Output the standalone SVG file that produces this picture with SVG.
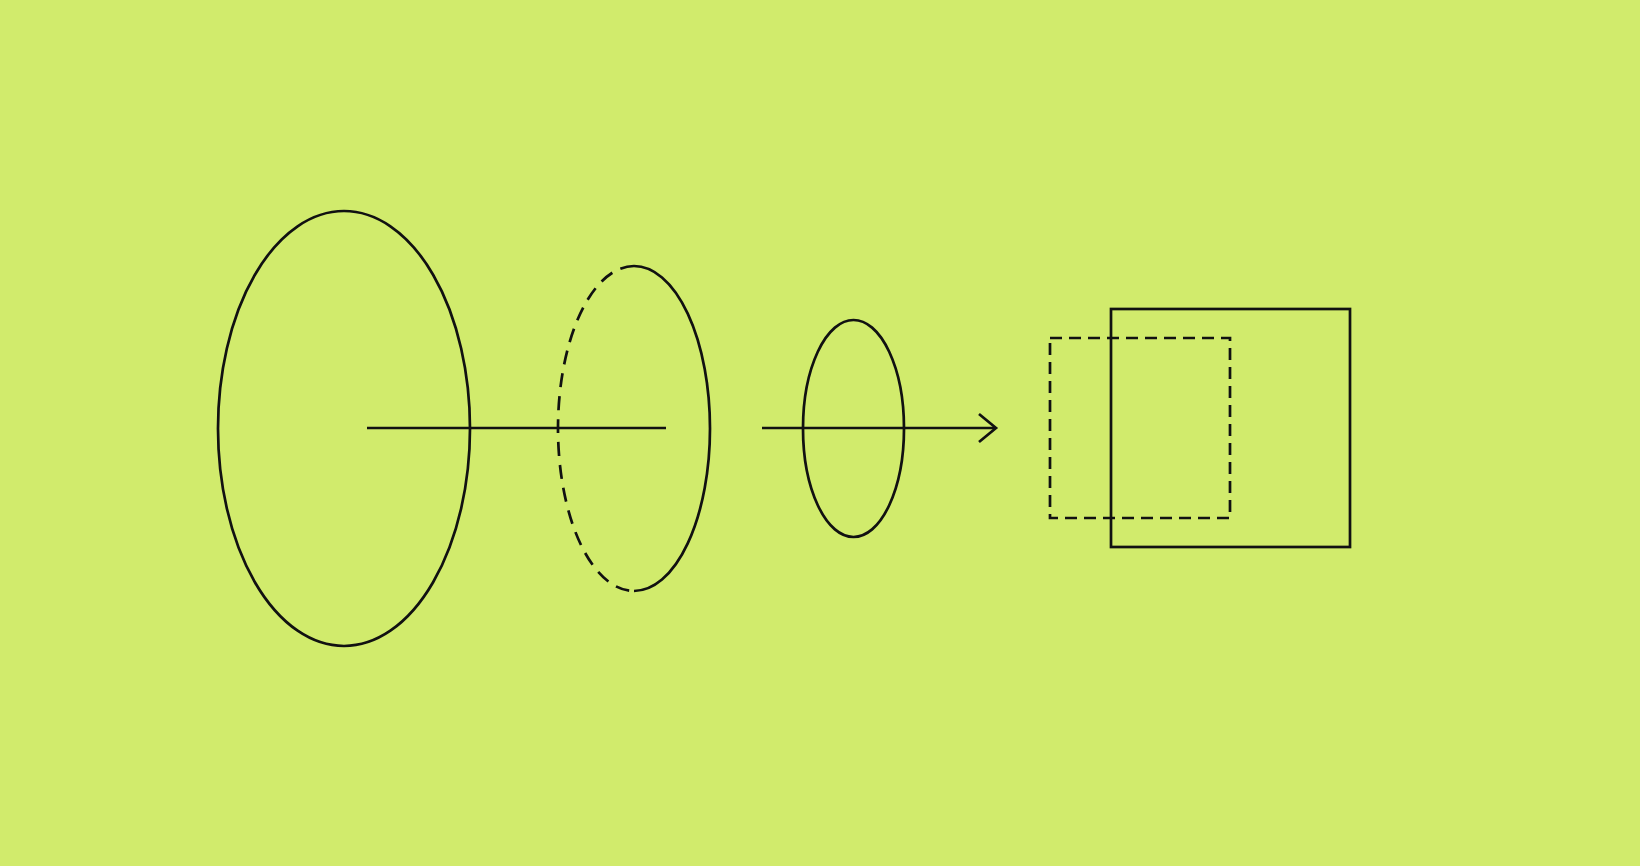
<svg xmlns="http://www.w3.org/2000/svg" width="1640" height="866" viewBox="0 0 1640 866">
<style>
.s{fill:none;stroke:#111;stroke-width:2.7;stroke-linecap:butt;stroke-linejoin:miter}
.d1{stroke-dasharray:14 9}
.d2{stroke-dasharray:12 7}
</style>
<rect x="0" y="0" width="1640" height="866" fill="#D1EB6C"/>
<g id="big-ellipse"><ellipse class="s" cx="344" cy="428.5" rx="126" ry="217.5"/></g>
<g id="half-ellipse">
<path class="s" d="M634 266 A76 162.5 0 0 1 634 591"/>
<path class="s d1" d="M634 266 A76 162.5 0 0 0 634 591"/>
</g>
<g id="small-ellipse"><ellipse class="s" cx="853.5" cy="428.5" rx="50.5" ry="108.5"/></g>
<g id="dashed-rect"><rect class="s d2" x="1050" y="338" width="180" height="180"/></g>
<g id="solid-rect"><rect class="s" x="1111" y="309" width="239" height="238"/></g>
<g id="connectors">
<line class="s" x1="367" y1="428" x2="666" y2="428"/>
<line class="s" x1="762" y1="428" x2="995" y2="428"/>
<polyline class="s" points="979,414 996,428 979,442"/>
</g>
</svg>
